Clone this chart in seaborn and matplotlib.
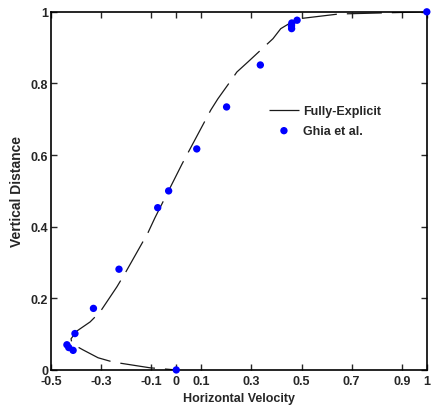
import numpy as np
import pandas as pd
import matplotlib
matplotlib.use("Agg")
import matplotlib.pyplot as plt
import seaborn as sns

# Fully-explicit solution along the vertical centreline
explicit_u = [1.0, 0.649, 0.481, 0.417, 0.386, 0.286, 0.242, 0.214, 0.166, 0.138,
              0.106, 0.023, -0.005, -0.085, -0.113, -0.201, -0.237, -0.304, -0.344,
              -0.396, -0.420, -0.416, -0.372, -0.312, -0.252, -0.105, 0.0]
explicit_y = [1.0, 0.994, 0.980, 0.953, 0.925, 0.860, 0.832, 0.804, 0.757, 0.726,
              0.684, 0.575, 0.536, 0.425, 0.383, 0.274, 0.232, 0.162, 0.134,
              0.109, 0.087, 0.073, 0.056, 0.034, 0.022, 0.006, 0.0]

# Ghia et al. benchmark points
ghia_y = [1.0, 0.9766, 0.9688, 0.9609, 0.9531, 0.8516, 0.7344, 0.6172, 0.5,
          0.4531, 0.2813, 0.1719, 0.1016, 0.0703, 0.0625, 0.0547, 0.0]
ghia_u = [1.0, 0.48223, 0.46120, 0.45992, 0.46036, 0.33556, 0.20087, 0.08183,
          -0.03039, -0.07404, -0.22855, -0.33050, -0.40435, -0.43643, -0.42901,
          -0.41165, 0.0]

xticks = [-0.5, -0.3, -0.1, 0, 0.1, 0.3, 0.5, 0.7, 0.9, 1]
xticklabels = ["-0.5", "-0.3", "-0.1", "0", "0.1", "0.3", "0.5", "0.7", "0.9", "1"]
yticks = [0, 0.2, 0.4, 0.6, 0.8, 1]
yticklabels = ["0", "0.2", "0.4", "0.6", "0.8", "1"]

sns.set_style("ticks")
plt.rcParams["font.family"] = ["Liberation Sans", "DejaVu Sans"]
plt.rcParams["font.weight"] = "bold"

line_df = pd.DataFrame({"u": explicit_u, "y": explicit_y})
ghia_df = pd.DataFrame({"u": ghia_u, "y": ghia_y})

fig = plt.figure(figsize=(4.32, 4.14), dpi=100)
ax = fig.add_axes([0.118, 0.104, 0.870, 0.865])

sns.lineplot(data=line_df, x="u", y="y", sort=False, estimator=None, ax=ax,
             color="#1a1a1a", linewidth=0.9, linestyle=(0, (28, 8)),
             label="Fully-Explicit")
sns.scatterplot(data=ghia_df, x="u", y="y", ax=ax, color="#0000ff", s=28,
                edgecolor="none", clip_on=False, zorder=5, label="Ghia et al.")

ax.set_xlim(-0.5, 1)
ax.set_ylim(0, 1)
ax.set_xticks(xticks)
ax.set_xticklabels(xticklabels)
ax.set_yticks(yticks)
ax.set_yticklabels(yticklabels)
ax.tick_params(direction="in", length=4, width=1, labelsize=9, pad=2,
               top=True, right=True)
ax.tick_params(axis="x", pad=4)
for lab in ax.get_xticklabels() + ax.get_yticklabels():
    lab.set_fontweight("bold")
for sp in ax.spines.values():
    sp.set_linewidth(1.2)
    sp.set_color("black")

ax.set_xlabel("Horizontal Velocity", fontsize=9, fontweight="bold", labelpad=3)
ax.set_ylabel("Vertical Distance", fontsize=10, fontweight="bold", labelpad=5)

leg = ax.legend(loc="upper left", bbox_to_anchor=(0.55, 0.77), frameon=False,
                fontsize=9, handlelength=2.4, handletextpad=0.3,
                labelspacing=0.6)
for t in leg.get_texts():
    t.set_fontweight("bold")

fig.savefig("out.png", dpi=100)
